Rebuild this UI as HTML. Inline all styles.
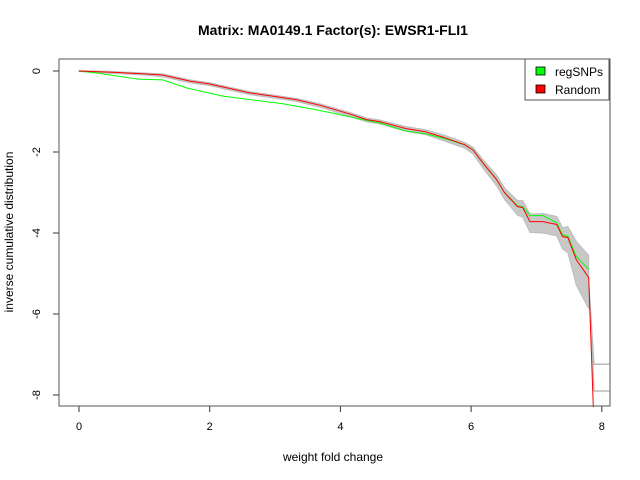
<!DOCTYPE html>
<html><head><meta charset="utf-8"><style>
body{margin:0;background:#fff}
svg{display:block;font-family:"Liberation Sans",sans-serif}
</style></head><body>
<svg id="chart" width="640" height="480">
<text x="333" y="35" text-anchor="middle" font-size="14" font-weight="bold">Matrix: MA0149.1 Factor(s): EWSR1-FLI1</text>
<text x="333" y="461" text-anchor="middle" font-size="12">weight fold change</text>
<text transform="translate(13,232) rotate(-90)" text-anchor="middle" font-size="12">inverse cumulative distribution</text>
<g id="band"></g>
<g id="series"></g>
<g id="axes"></g>
<rect x="59" y="59" width="551" height="347" fill="none" stroke="#555"/>
<g>
<rect x="525" y="59" width="84" height="41" fill="#fff" stroke="#555"/>
<rect x="536" y="67" width="9" height="8" fill="#00ff00" stroke="#000" stroke-width="0.8"/>
<text x="555" y="76" font-size="12">regSNPs</text>
<rect x="536" y="85" width="9" height="8" fill="#ff0000" stroke="#000" stroke-width="0.8"/>
<text x="555" y="94" font-size="12">Random</text>
</g>
</svg>
<script>
const redX=[0,0.5,1.0,1.28,1.7,2.0,2.61,3.0,3.33,3.7,4.14,4.4,4.6,5.0,5.3,5.6,5.9,6.03,6.18,6.39,6.51,6.71,6.79,6.9,7.1,7.31,7.4,7.48,7.61,7.8,7.87];
const redY=[0,-0.03,-0.07,-0.1,-0.25,-0.32,-0.54,-0.63,-0.71,-0.85,-1.06,-1.2,-1.25,-1.42,-1.5,-1.65,-1.82,-1.95,-2.27,-2.68,-3.0,-3.35,-3.37,-3.72,-3.72,-3.79,-4.09,-4.11,-4.66,-5.1,-8.3];
const greenX=[0,0.27,0.9,1.28,1.65,2.2,3.12,3.64,4.0,4.4,4.6,5.0,5.3,5.6,5.9,6.03,6.18,6.39,6.51,6.71,6.79,6.9,7.1,7.31,7.4,7.48,7.61,7.8];
const greenY=[0,-0.05,-0.2,-0.22,-0.42,-0.62,-0.81,-0.96,-1.08,-1.22,-1.28,-1.48,-1.55,-1.67,-1.82,-1.95,-2.27,-2.68,-3.0,-3.33,-3.35,-3.57,-3.57,-3.75,-4.05,-4.08,-4.58,-4.9];
const bandSpread=[0.01,0.02,0.02,0.03,0.03,0.03,0.03,0.03,0.03,0.035,0.04,0.04,0.04,0.05,0.05,0.06,0.06,0.07,0.09,0.11,0.12,0.15,0.17,0.19,0.2,0.2,0.22,0.27,0.45,0.55,0.3];
const xTicks=[0,2,4,6,8];
const yTicks=[0,-2,-4,-6,-8];
const sx=v=>79+v*65.35, sy=v=>71-v*40.5;
const NS="http://www.w3.org/2000/svg";
function mk(t,a,p){const e=document.createElementNS(NS,t);for(const k in a)e.setAttribute(k,a[k]);p.appendChild(e);return e;}
const band=document.getElementById('band');
let up=[],lo=[];
for(let i=0;i<redX.length-1;i++){up.push(sx(redX[i])+','+sy(redY[i]+bandSpread[i]));lo.unshift(sx(redX[i])+','+sy(redY[i]-bandSpread[i]*1.4));}
const bp=mk('polygon',{points:up.concat(lo).join(' '),fill:'#c8c8c8',stroke:'#bdbdbd','stroke-width':1},band);


const tailYs=[-7.24,-7.9];
tailYs.forEach(v=>{
const t=mk('polyline',{points:`${sx(7.8)},${sy(-5.3)} ${sx(7.88)},${sy(v)} 610,${sy(v)}`,fill:'none',stroke:'#bbb','stroke-width':1.5},band);


});
const ser=document.getElementById('series');
const g=mk('polyline',{points:greenX.map((x,i)=>sx(x)+','+sy(greenY[i])).join(' '),fill:'none',stroke:'#00ff00','stroke-width':1},ser);


const r=mk('polyline',{points:redX.map((x,i)=>sx(x)+','+sy(redY[i])).join(' '),fill:'none',stroke:'#ff0000','stroke-width':1},ser);


const ax=document.getElementById('axes');
mk('line',{x1:sx(0),x2:sx(8),y1:406,y2:406,stroke:'#333'},ax);
xTicks.forEach(v=>{mk('line',{x1:sx(v),x2:sx(v),y1:406,y2:412,stroke:'#333'},ax);
const t=mk('text',{x:sx(v),y:430,'text-anchor':'middle','font-size':11},ax);t.textContent=v;

});
mk('line',{x1:59,x2:59,y1:sy(0),y2:sy(-8),stroke:'#333'},ax);
yTicks.forEach(v=>{mk('line',{x1:53,x2:59,y1:sy(v),y2:sy(v),stroke:'#333'},ax);
const t=mk('text',{transform:`translate(40,${sy(v)}) rotate(-90)`,'text-anchor':'middle','font-size':11},ax);t.textContent=v;

});
</script>
</body></html>
